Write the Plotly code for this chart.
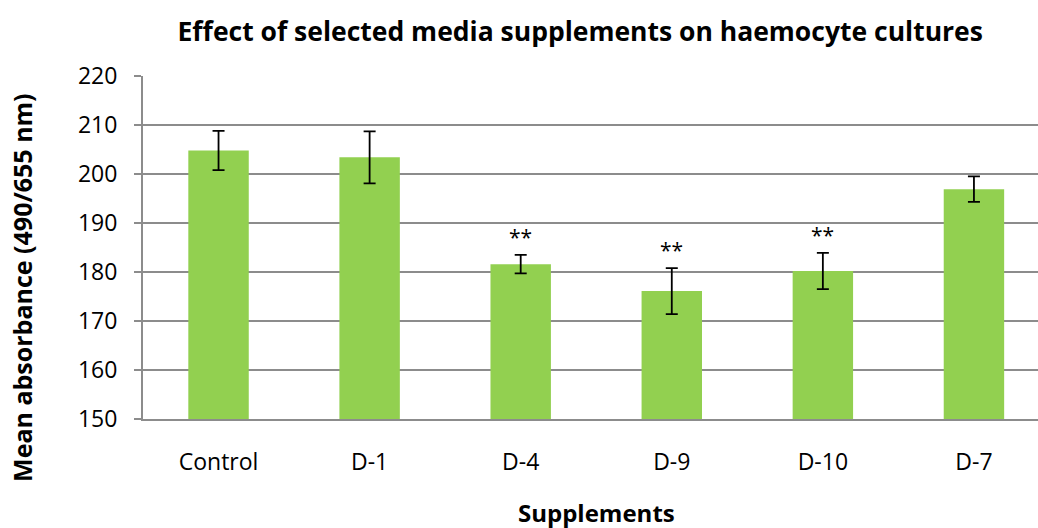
import plotly.graph_objects as go

# Mean absorbance per supplement with standard error
categories = ["Control", "D-1", "D-4", "D-9", "D-10", "D-7"]
means = [204.8, 203.4, 181.6, 176.1, 180.2, 196.9]
errors = [4.0, 5.3, 1.9, 4.7, 3.7, 2.6]
significance = ["", "", "**", "**", "**", ""]

FONT = "Open Sans"
GRID = "#8c8c8c"

fig = go.Figure()
fig.add_trace(go.Bar(
    x=categories,
    y=means,
    width=0.4,
    marker=dict(color="#92D050", line=dict(width=0)),
    error_y=dict(type="data", array=errors, visible=True,
                 color="black", thickness=1.8, width=6),
    showlegend=False,
))

# significance markers above the error bars
for cat, m, e, s in zip(categories, means, errors, significance):
    if s:
        fig.add_annotation(x=cat, y=m + e, text=s, showarrow=False,
                           yanchor="bottom", yshift=2,
                           font=dict(family=FONT, size=21, color="black"))

# axis titles
fig.add_annotation(xref="paper", yref="paper", x=0.507, y=-0.272,
                   text="<b>Supplements</b>", showarrow=False,
                   xanchor="center", yanchor="middle",
                   font=dict(family=FONT, size=24, color="black"))
fig.add_annotation(xref="paper", yref="paper", x=-0.1352, y=0.385,
                   text="<b>Mean absorbance (490/655 nm)</b>", showarrow=False,
                   textangle=-90, xanchor="center", yanchor="middle",
                   font=dict(family=FONT, size=25, color="black"))

fig.update_layout(
    width=1038, height=528,
    margin=dict(l=143, r=0, t=76, b=109),
    paper_bgcolor="white", plot_bgcolor="white",
    font=dict(family=FONT, color="black"),
    title=dict(text="<b>Effect of selected media supplements on haemocyte cultures</b>",
               x=0.559, xanchor="center", y=0.939, yanchor="middle",
               font=dict(family=FONT, size=26.5, color="black")),
    bargap=0.6,
)
fig.update_xaxes(
    range=[-0.5, 5.424], automargin=False,
    showline=True, linecolor=GRID, linewidth=2,
    ticks="", showgrid=False,
    tickfont=dict(family=FONT, size=23, color="black"),
    ticklabelstandoff=21,
)
fig.update_yaxes(
    range=[150, 220], dtick=10, automargin=False,
    showline=True, linecolor=GRID, linewidth=2,
    ticks="outside", ticklen=7, tickcolor=GRID, tickwidth=2,
    showgrid=True, gridcolor=GRID, gridwidth=2,
    tickfont=dict(family=FONT, size=23, color="black"),
    ticklabelstandoff=12,
    zeroline=False,
)

fig.write_html("out.html")
